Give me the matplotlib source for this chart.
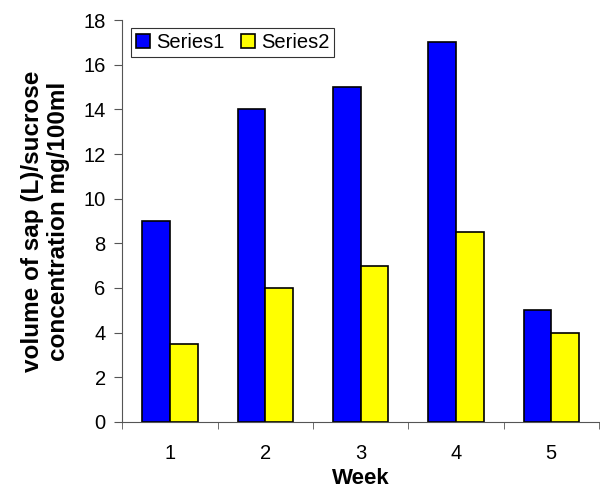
import matplotlib
matplotlib.use("Agg")
import matplotlib.pyplot as plt
import numpy as np

plt.rcParams.update({"font.family": "Liberation Sans", "font.size": 14.5})

weeks = [1, 2, 3, 4, 5]
series1 = [9, 14, 15, 17, 5]
series2 = [3.5, 6, 7, 8.5, 4]

fig = plt.figure(figsize=(6.0, 4.9), dpi=100)
ax = fig.add_axes([0.204, 0.139, 0.794, 0.82])

x = np.array(weeks)
w = 0.29
ax.bar(x - w / 2, series1, w, color="#0000FF", edgecolor="black", lw=1.2, label="Series1")
ax.bar(x + w / 2, series2, w, color="#FFFF00", edgecolor="black", lw=1.2, label="Series2")

ax.set_xlim(0.5, 5.5)
ax.set_ylim(0, 18)
ax.set_yticks(range(0, 19, 2))
ax.set_xticks(weeks)
ax.set_xticks(np.arange(0.5, 5.6, 1), minor=True)
ax.tick_params(axis="x", which="major", length=0, pad=16)
ax.tick_params(axis="x", which="minor", length=5, direction="out", color="#555555")
ax.tick_params(axis="y", length=6, direction="out", color="#555555", pad=6)

for side in ["top", "right"]:
    ax.spines[side].set_visible(False)
for side in ["left", "bottom"]:
    ax.spines[side].set_color("#555555")

ax.set_xlabel("Week", fontsize=16, fontweight="bold")
ax.xaxis.set_label_coords(0.5, -0.115)
ax.set_ylabel("volume of sap (L)/sucrose\nconcentration mg/100ml", fontsize=17.5,
              fontweight="bold", linespacing=1.15)
ax.yaxis.set_label_coords(-0.11, 0.5)

leg = ax.legend(loc="upper left", bbox_to_anchor=(0.01, 0.99), ncol=2, frameon=True,
                fancybox=False, edgecolor="black", handlelength=0.7, handleheight=0.7,
                handletextpad=0.3, columnspacing=0.8, borderpad=0.25, fontsize=14.5,
                borderaxespad=0.2)
leg.get_frame().set_linewidth(0.8)

fig.savefig("out.png", dpi=100)
